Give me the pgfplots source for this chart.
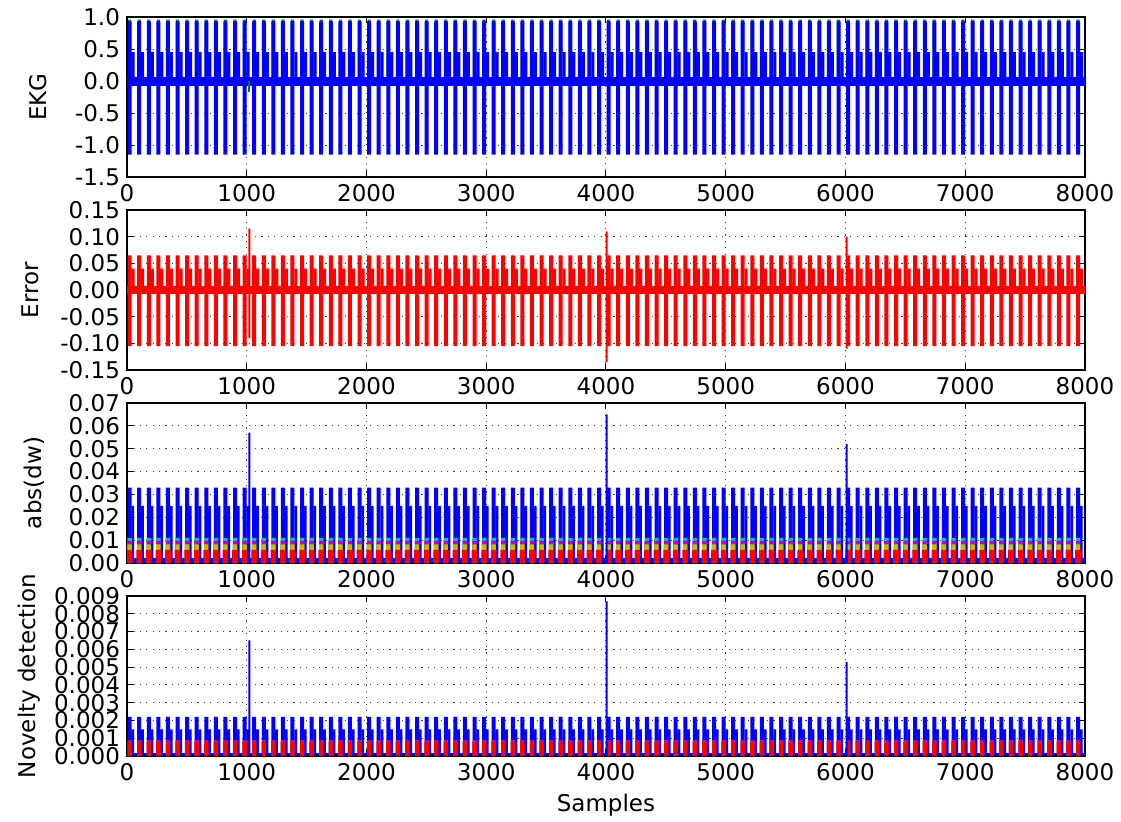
\documentclass[border=0pt]{standalone}
\usepackage{fontspec}
\setmainfont{DejaVu Sans}
\usepackage{pgfplots}
\pgfplotsset{compat=1.18}
\usepackage{pgfplotstable}

% matplotlib classic colours
\definecolor{mb}{rgb}{0,0,1}
\definecolor{mg}{rgb}{0,0.5,0}
\definecolor{mr}{rgb}{1,0,0}
\definecolor{mc}{rgb}{0,0.75,0.75}
\definecolor{mm}{rgb}{0.75,0,0.75}
\definecolor{my}{rgb}{0.75,0.75,0}

% one row per heart beat: peak heights in each panel
\pgfplotstableread{
x eg eh el es rh rl rs dh ds dc dm dy dr nh ns nm nr
22 0.96 0.93 -1.15 0.45 0.065 -0.105 0.04 0.033 0.025 0.011 0.0097 0.0082 0.0058 0.0022 0.0015 0.0009 0.0008
102 0.96 0.93 -1.15 0.45 0.065 -0.105 0.04 0.033 0.025 0.011 0.0097 0.0082 0.0058 0.0022 0.0015 0.0009 0.0008
182 0.96 0.93 -1.15 0.45 0.065 -0.105 0.04 0.033 0.025 0.011 0.0097 0.0082 0.0058 0.0022 0.0015 0.0009 0.0008
262 0.96 0.93 -1.15 0.45 0.065 -0.105 0.04 0.033 0.025 0.011 0.0097 0.0082 0.0058 0.0022 0.0015 0.0009 0.0008
342 0.96 0.93 -1.15 0.45 0.065 -0.105 0.04 0.033 0.025 0.011 0.0097 0.0082 0.0058 0.0022 0.0015 0.0009 0.0008
422 0.96 0.93 -1.15 0.45 0.065 -0.105 0.04 0.033 0.025 0.011 0.0097 0.0082 0.0058 0.0022 0.0015 0.0009 0.0008
502 0.96 0.93 -1.15 0.45 0.065 -0.105 0.04 0.033 0.025 0.011 0.0097 0.0082 0.0058 0.0022 0.0015 0.0009 0.0008
582 0.96 0.93 -1.15 0.45 0.065 -0.105 0.04 0.033 0.025 0.011 0.0097 0.0082 0.0058 0.0022 0.0015 0.0009 0.0008
662 0.96 0.93 -1.15 0.45 0.065 -0.105 0.04 0.033 0.025 0.011 0.0097 0.0082 0.0058 0.0022 0.0015 0.0009 0.0008
742 0.96 0.93 -1.15 0.45 0.065 -0.105 0.04 0.033 0.025 0.011 0.0097 0.0082 0.0058 0.0022 0.0015 0.0009 0.0008
822 0.96 0.93 -1.15 0.45 0.065 -0.105 0.04 0.033 0.025 0.011 0.0097 0.0082 0.0058 0.0022 0.0015 0.0009 0.0008
902 0.96 0.93 -1.15 0.45 0.065 -0.105 0.04 0.033 0.025 0.011 0.0097 0.0082 0.0058 0.0022 0.0015 0.0009 0.0008
982 0.96 0.93 -1.15 0.45 0.065 -0.105 0.04 0.033 0.025 0.011 0.0097 0.0082 0.0058 0.0022 0.0015 0.0009 0.0008
1062 0.96 0.93 -1.15 0.45 0.065 -0.105 0.04 0.033 0.025 0.011 0.0097 0.0082 0.0058 0.0022 0.0015 0.0009 0.0008
1142 0.96 0.93 -1.15 0.45 0.065 -0.105 0.04 0.033 0.025 0.011 0.0097 0.0082 0.0058 0.0022 0.0015 0.0009 0.0008
1222 0.96 0.93 -1.15 0.45 0.065 -0.105 0.04 0.033 0.025 0.011 0.0097 0.0082 0.0058 0.0022 0.0015 0.0009 0.0008
1302 0.96 0.93 -1.15 0.45 0.065 -0.105 0.04 0.033 0.025 0.011 0.0097 0.0082 0.0058 0.0022 0.0015 0.0009 0.0008
1382 0.96 0.93 -1.15 0.45 0.065 -0.105 0.04 0.033 0.025 0.011 0.0097 0.0082 0.0058 0.0022 0.0015 0.0009 0.0008
1462 0.96 0.93 -1.15 0.45 0.065 -0.105 0.04 0.033 0.025 0.011 0.0097 0.0082 0.0058 0.0022 0.0015 0.0009 0.0008
1542 0.96 0.93 -1.15 0.45 0.065 -0.105 0.04 0.033 0.025 0.011 0.0097 0.0082 0.0058 0.0022 0.0015 0.0009 0.0008
1622 0.96 0.93 -1.15 0.45 0.065 -0.105 0.04 0.033 0.025 0.011 0.0097 0.0082 0.0058 0.0022 0.0015 0.0009 0.0008
1702 0.96 0.93 -1.15 0.45 0.065 -0.105 0.04 0.033 0.025 0.011 0.0097 0.0082 0.0058 0.0022 0.0015 0.0009 0.0008
1782 0.96 0.93 -1.15 0.45 0.065 -0.105 0.04 0.033 0.025 0.011 0.0097 0.0082 0.0058 0.0022 0.0015 0.0009 0.0008
1862 0.96 0.93 -1.15 0.45 0.065 -0.105 0.04 0.033 0.025 0.011 0.0097 0.0082 0.0058 0.0022 0.0015 0.0009 0.0008
1942 0.96 0.93 -1.15 0.45 0.065 -0.105 0.04 0.033 0.025 0.011 0.0097 0.0082 0.0058 0.0022 0.0015 0.0009 0.0008
2022 0.96 0.93 -1.15 0.45 0.065 -0.105 0.04 0.033 0.025 0.011 0.0097 0.0082 0.0058 0.0022 0.0015 0.0009 0.0008
2102 0.96 0.93 -1.15 0.45 0.065 -0.105 0.04 0.033 0.025 0.011 0.0097 0.0082 0.0058 0.0022 0.0015 0.0009 0.0008
2182 0.96 0.93 -1.15 0.45 0.065 -0.105 0.04 0.033 0.025 0.011 0.0097 0.0082 0.0058 0.0022 0.0015 0.0009 0.0008
2262 0.96 0.93 -1.15 0.45 0.065 -0.105 0.04 0.033 0.025 0.011 0.0097 0.0082 0.0058 0.0022 0.0015 0.0009 0.0008
2342 0.96 0.93 -1.15 0.45 0.065 -0.105 0.04 0.033 0.025 0.011 0.0097 0.0082 0.0058 0.0022 0.0015 0.0009 0.0008
2422 0.96 0.93 -1.15 0.45 0.065 -0.105 0.04 0.033 0.025 0.011 0.0097 0.0082 0.0058 0.0022 0.0015 0.0009 0.0008
2502 0.96 0.93 -1.15 0.45 0.065 -0.105 0.04 0.033 0.025 0.011 0.0097 0.0082 0.0058 0.0022 0.0015 0.0009 0.0008
2582 0.96 0.93 -1.15 0.45 0.065 -0.105 0.04 0.033 0.025 0.011 0.0097 0.0082 0.0058 0.0022 0.0015 0.0009 0.0008
2662 0.96 0.93 -1.15 0.45 0.065 -0.105 0.04 0.033 0.025 0.011 0.0097 0.0082 0.0058 0.0022 0.0015 0.0009 0.0008
2742 0.96 0.93 -1.15 0.45 0.065 -0.105 0.04 0.033 0.025 0.011 0.0097 0.0082 0.0058 0.0022 0.0015 0.0009 0.0008
2822 0.96 0.93 -1.15 0.45 0.065 -0.105 0.04 0.033 0.025 0.011 0.0097 0.0082 0.0058 0.0022 0.0015 0.0009 0.0008
2902 0.96 0.93 -1.15 0.45 0.065 -0.105 0.04 0.033 0.025 0.011 0.0097 0.0082 0.0058 0.0022 0.0015 0.0009 0.0008
2982 0.96 0.93 -1.15 0.45 0.065 -0.105 0.04 0.033 0.025 0.011 0.0097 0.0082 0.0058 0.0022 0.0015 0.0009 0.0008
3062 0.96 0.93 -1.15 0.45 0.065 -0.105 0.04 0.033 0.025 0.011 0.0097 0.0082 0.0058 0.0022 0.0015 0.0009 0.0008
3142 0.96 0.93 -1.15 0.45 0.065 -0.105 0.04 0.033 0.025 0.011 0.0097 0.0082 0.0058 0.0022 0.0015 0.0009 0.0008
3222 0.96 0.93 -1.15 0.45 0.065 -0.105 0.04 0.033 0.025 0.011 0.0097 0.0082 0.0058 0.0022 0.0015 0.0009 0.0008
3302 0.96 0.93 -1.15 0.45 0.065 -0.105 0.04 0.033 0.025 0.011 0.0097 0.0082 0.0058 0.0022 0.0015 0.0009 0.0008
3382 0.96 0.93 -1.15 0.45 0.065 -0.105 0.04 0.033 0.025 0.011 0.0097 0.0082 0.0058 0.0022 0.0015 0.0009 0.0008
3462 0.96 0.93 -1.15 0.45 0.065 -0.105 0.04 0.033 0.025 0.011 0.0097 0.0082 0.0058 0.0022 0.0015 0.0009 0.0008
3542 0.96 0.93 -1.15 0.45 0.065 -0.105 0.04 0.033 0.025 0.011 0.0097 0.0082 0.0058 0.0022 0.0015 0.0009 0.0008
3622 0.96 0.93 -1.15 0.45 0.065 -0.105 0.04 0.033 0.025 0.011 0.0097 0.0082 0.0058 0.0022 0.0015 0.0009 0.0008
3702 0.96 0.93 -1.15 0.45 0.065 -0.105 0.04 0.033 0.025 0.011 0.0097 0.0082 0.0058 0.0022 0.0015 0.0009 0.0008
3782 0.96 0.93 -1.15 0.45 0.065 -0.105 0.04 0.033 0.025 0.011 0.0097 0.0082 0.0058 0.0022 0.0015 0.0009 0.0008
3862 0.96 0.93 -1.15 0.45 0.065 -0.105 0.04 0.033 0.025 0.011 0.0097 0.0082 0.0058 0.0022 0.0015 0.0009 0.0008
3942 0.96 0.93 -1.15 0.45 0.065 -0.105 0.04 0.033 0.025 0.011 0.0097 0.0082 0.0058 0.0022 0.0015 0.0009 0.0008
4022 0.96 0.93 -1.15 0.45 0.065 -0.105 0.04 0.033 0.025 0.011 0.0097 0.0082 0.0058 0.0022 0.0015 0.0009 0.0008
4102 0.96 0.93 -1.15 0.45 0.065 -0.105 0.04 0.033 0.025 0.011 0.0097 0.0082 0.0058 0.0022 0.0015 0.0009 0.0008
4182 0.96 0.93 -1.15 0.45 0.065 -0.105 0.04 0.033 0.025 0.011 0.0097 0.0082 0.0058 0.0022 0.0015 0.0009 0.0008
4262 0.96 0.93 -1.15 0.45 0.065 -0.105 0.04 0.033 0.025 0.011 0.0097 0.0082 0.0058 0.0022 0.0015 0.0009 0.0008
4342 0.96 0.93 -1.15 0.45 0.065 -0.105 0.04 0.033 0.025 0.011 0.0097 0.0082 0.0058 0.0022 0.0015 0.0009 0.0008
4422 0.96 0.93 -1.15 0.45 0.065 -0.105 0.04 0.033 0.025 0.011 0.0097 0.0082 0.0058 0.0022 0.0015 0.0009 0.0008
4502 0.96 0.93 -1.15 0.45 0.065 -0.105 0.04 0.033 0.025 0.011 0.0097 0.0082 0.0058 0.0022 0.0015 0.0009 0.0008
4582 0.96 0.93 -1.15 0.45 0.065 -0.105 0.04 0.033 0.025 0.011 0.0097 0.0082 0.0058 0.0022 0.0015 0.0009 0.0008
4662 0.96 0.93 -1.15 0.45 0.065 -0.105 0.04 0.033 0.025 0.011 0.0097 0.0082 0.0058 0.0022 0.0015 0.0009 0.0008
4742 0.96 0.93 -1.15 0.45 0.065 -0.105 0.04 0.033 0.025 0.011 0.0097 0.0082 0.0058 0.0022 0.0015 0.0009 0.0008
4822 0.96 0.93 -1.15 0.45 0.065 -0.105 0.04 0.033 0.025 0.011 0.0097 0.0082 0.0058 0.0022 0.0015 0.0009 0.0008
4902 0.96 0.93 -1.15 0.45 0.065 -0.105 0.04 0.033 0.025 0.011 0.0097 0.0082 0.0058 0.0022 0.0015 0.0009 0.0008
4982 0.96 0.93 -1.15 0.45 0.065 -0.105 0.04 0.033 0.025 0.011 0.0097 0.0082 0.0058 0.0022 0.0015 0.0009 0.0008
5062 0.96 0.93 -1.15 0.45 0.065 -0.105 0.04 0.033 0.025 0.011 0.0097 0.0082 0.0058 0.0022 0.0015 0.0009 0.0008
5142 0.96 0.93 -1.15 0.45 0.065 -0.105 0.04 0.033 0.025 0.011 0.0097 0.0082 0.0058 0.0022 0.0015 0.0009 0.0008
5222 0.96 0.93 -1.15 0.45 0.065 -0.105 0.04 0.033 0.025 0.011 0.0097 0.0082 0.0058 0.0022 0.0015 0.0009 0.0008
5302 0.96 0.93 -1.15 0.45 0.065 -0.105 0.04 0.033 0.025 0.011 0.0097 0.0082 0.0058 0.0022 0.0015 0.0009 0.0008
5382 0.96 0.93 -1.15 0.45 0.065 -0.105 0.04 0.033 0.025 0.011 0.0097 0.0082 0.0058 0.0022 0.0015 0.0009 0.0008
5462 0.96 0.93 -1.15 0.45 0.065 -0.105 0.04 0.033 0.025 0.011 0.0097 0.0082 0.0058 0.0022 0.0015 0.0009 0.0008
5542 0.96 0.93 -1.15 0.45 0.065 -0.105 0.04 0.033 0.025 0.011 0.0097 0.0082 0.0058 0.0022 0.0015 0.0009 0.0008
5622 0.96 0.93 -1.15 0.45 0.065 -0.105 0.04 0.033 0.025 0.011 0.0097 0.0082 0.0058 0.0022 0.0015 0.0009 0.0008
5702 0.96 0.93 -1.15 0.45 0.065 -0.105 0.04 0.033 0.025 0.011 0.0097 0.0082 0.0058 0.0022 0.0015 0.0009 0.0008
5782 0.96 0.93 -1.15 0.45 0.065 -0.105 0.04 0.033 0.025 0.011 0.0097 0.0082 0.0058 0.0022 0.0015 0.0009 0.0008
5862 0.96 0.93 -1.15 0.45 0.065 -0.105 0.04 0.033 0.025 0.011 0.0097 0.0082 0.0058 0.0022 0.0015 0.0009 0.0008
5942 0.96 0.93 -1.15 0.45 0.065 -0.105 0.04 0.033 0.025 0.011 0.0097 0.0082 0.0058 0.0022 0.0015 0.0009 0.0008
6022 0.96 0.93 -1.15 0.45 0.065 -0.105 0.04 0.033 0.025 0.011 0.0097 0.0082 0.0058 0.0022 0.0015 0.0009 0.0008
6102 0.96 0.93 -1.15 0.45 0.065 -0.105 0.04 0.033 0.025 0.011 0.0097 0.0082 0.0058 0.0022 0.0015 0.0009 0.0008
6182 0.96 0.93 -1.15 0.45 0.065 -0.105 0.04 0.033 0.025 0.011 0.0097 0.0082 0.0058 0.0022 0.0015 0.0009 0.0008
6262 0.96 0.93 -1.15 0.45 0.065 -0.105 0.04 0.033 0.025 0.011 0.0097 0.0082 0.0058 0.0022 0.0015 0.0009 0.0008
6342 0.96 0.93 -1.15 0.45 0.065 -0.105 0.04 0.033 0.025 0.011 0.0097 0.0082 0.0058 0.0022 0.0015 0.0009 0.0008
6422 0.96 0.93 -1.15 0.45 0.065 -0.105 0.04 0.033 0.025 0.011 0.0097 0.0082 0.0058 0.0022 0.0015 0.0009 0.0008
6502 0.96 0.93 -1.15 0.45 0.065 -0.105 0.04 0.033 0.025 0.011 0.0097 0.0082 0.0058 0.0022 0.0015 0.0009 0.0008
6582 0.96 0.93 -1.15 0.45 0.065 -0.105 0.04 0.033 0.025 0.011 0.0097 0.0082 0.0058 0.0022 0.0015 0.0009 0.0008
6662 0.96 0.93 -1.15 0.45 0.065 -0.105 0.04 0.033 0.025 0.011 0.0097 0.0082 0.0058 0.0022 0.0015 0.0009 0.0008
6742 0.96 0.93 -1.15 0.45 0.065 -0.105 0.04 0.033 0.025 0.011 0.0097 0.0082 0.0058 0.0022 0.0015 0.0009 0.0008
6822 0.96 0.93 -1.15 0.45 0.065 -0.105 0.04 0.033 0.025 0.011 0.0097 0.0082 0.0058 0.0022 0.0015 0.0009 0.0008
6902 0.96 0.93 -1.15 0.45 0.065 -0.105 0.04 0.033 0.025 0.011 0.0097 0.0082 0.0058 0.0022 0.0015 0.0009 0.0008
6982 0.96 0.93 -1.15 0.45 0.065 -0.105 0.04 0.033 0.025 0.011 0.0097 0.0082 0.0058 0.0022 0.0015 0.0009 0.0008
7062 0.96 0.93 -1.15 0.45 0.065 -0.105 0.04 0.033 0.025 0.011 0.0097 0.0082 0.0058 0.0022 0.0015 0.0009 0.0008
7142 0.96 0.93 -1.15 0.45 0.065 -0.105 0.04 0.033 0.025 0.011 0.0097 0.0082 0.0058 0.0022 0.0015 0.0009 0.0008
7222 0.96 0.93 -1.15 0.45 0.065 -0.105 0.04 0.033 0.025 0.011 0.0097 0.0082 0.0058 0.0022 0.0015 0.0009 0.0008
7302 0.96 0.93 -1.15 0.45 0.065 -0.105 0.04 0.033 0.025 0.011 0.0097 0.0082 0.0058 0.0022 0.0015 0.0009 0.0008
7382 0.96 0.93 -1.15 0.45 0.065 -0.105 0.04 0.033 0.025 0.011 0.0097 0.0082 0.0058 0.0022 0.0015 0.0009 0.0008
7462 0.96 0.93 -1.15 0.45 0.065 -0.105 0.04 0.033 0.025 0.011 0.0097 0.0082 0.0058 0.0022 0.0015 0.0009 0.0008
7542 0.96 0.93 -1.15 0.45 0.065 -0.105 0.04 0.033 0.025 0.011 0.0097 0.0082 0.0058 0.0022 0.0015 0.0009 0.0008
7622 0.96 0.93 -1.15 0.45 0.065 -0.105 0.04 0.033 0.025 0.011 0.0097 0.0082 0.0058 0.0022 0.0015 0.0009 0.0008
7702 0.96 0.93 -1.15 0.45 0.065 -0.105 0.04 0.033 0.025 0.011 0.0097 0.0082 0.0058 0.0022 0.0015 0.0009 0.0008
7782 0.96 0.93 -1.15 0.45 0.065 -0.105 0.04 0.033 0.025 0.011 0.0097 0.0082 0.0058 0.0022 0.0015 0.0009 0.0008
7862 0.96 0.93 -1.15 0.45 0.065 -0.105 0.04 0.033 0.025 0.011 0.0097 0.0082 0.0058 0.0022 0.0015 0.0009 0.0008
7942 0.96 0.93 -1.15 0.45 0.065 -0.105 0.04 0.033 0.025 0.011 0.0097 0.0082 0.0058 0.0022 0.0015 0.0009 0.0008
}\beats

% the three novelties
\pgfplotstableread{
x rh rl dh nh
1021 0.115 -0.09 0.057 0.0065
4006 0.11 -0.135 0.065 0.0087
6009 0.10 -0.11 0.052 0.0053
}\novel

\pgfplotsset{
  panel/.style={
    scale only axis, width=479pt, height=80pt,
    xmin=0, xmax=8000, xtick={0,1000,...,8000},
    grid=major, major grid style={dash pattern=on 0.6pt off 2.6pt, black!75, line width=0.5pt},
    tick align=inside, xtick pos=both, ytick pos=both,
    major tick length=3pt,
    axis line style={line width=0.6pt},
    every tick/.style={black, line width=0.5pt},
    /pgf/number format/assume math mode=true,
    /pgf/number format/1000 sep={},
    scaled y ticks=false, scaled x ticks=false,
    tick label style={font=\fontsize{11.5}{12}\selectfont},
    label style={font=\fontsize{11.5}{13}\selectfont},
    clip=true,
  },
  spike/.style={ybar, bar shift=0pt, bar width=#1, draw=none, forget plot},
}

\begin{document}
\begin{tikzpicture}
\path[use as bounding box] (-63.5pt,8.5pt) rectangle (497pt,-402pt);

% EKG
\begin{axis}[panel, at={(0pt,0pt)}, anchor=north west,
  ymin=-1.5, ymax=1.0, ytick={-1.5,-1,...,1},
  yticklabel style={/pgf/number format/.cd, fixed, fixed zerofill, precision=1},
  ylabel={EKG}, ylabel shift=7pt]
\addplot[mb, line width=4.4pt, forget plot] coordinates {(0,-0.005) (8000,-0.005)};
\addplot[spike=1.6pt, fill=mg] table[x=x, y=eg] {\beats};
\addplot[spike=2pt, fill=mb] table[x=x, y=eh] {\beats};
\addplot[spike=2pt, fill=mb] table[x=x, y=el] {\beats};
\addplot[spike=1.6pt, fill=mb, bar shift=1.7pt] table[x=x, y=es] {\beats};
\addplot[spike=0.9pt, fill=mg] coordinates {(1021,-0.17)};
\end{axis}

% Error
\begin{axis}[panel, at={(0pt,-96.5pt)}, anchor=north west,
  ymin=-0.15, ymax=0.15, ytick={-0.15,-0.1,...,0.16},
  yticklabel style={/pgf/number format/.cd, fixed, fixed zerofill, precision=2},
  ylabel={Error}, ylabel shift=4pt]
\addplot[mr, line width=3.6pt, forget plot] coordinates {(0,0) (8000,0)};
\addplot[spike=2pt, fill=mr] table[x=x, y=rh] {\beats};
\addplot[spike=2pt, fill=mr] table[x=x, y=rl] {\beats};
\addplot[spike=1.6pt, fill=mr, bar shift=1.7pt] table[x=x, y=rs] {\beats};
\addplot[spike=1pt, fill=mr] table[x=x, y=rh] {\novel};
\addplot[spike=1pt, fill=mr] table[x=x, y=rl] {\novel};
\end{axis}

% abs(dw)
\begin{axis}[panel, at={(0pt,-193pt)}, anchor=north west,
  ymin=0, ymax=0.07, ytick={0,0.01,...,0.071},
  yticklabel style={/pgf/number format/.cd, fixed, fixed zerofill, precision=2},
  ylabel={abs(dw)}, ylabel shift=5pt]
\addplot[mb, line width=2.6pt, forget plot] coordinates {(0,0.0011) (8000,0.0011)};
\addplot[spike=2pt, fill=mb] table[x=x, y=dh] {\beats};
\addplot[spike=1.4pt, fill=mb, bar shift=1.6pt] table[x=x, y=ds] {\beats};
\addplot[spike=2.2pt, fill=mc] table[x=x, y=dc] {\beats};
\addplot[spike=2.2pt, fill=mm] table[x=x, y=dm] {\beats};
\addplot[spike=2.2pt, fill=my] table[x=x, y=dy] {\beats};
\addplot[spike=2.8pt, fill=mr] table[x=x, y=dr] {\beats};
\addplot[spike=1pt, fill=mb] table[x=x, y=dh] {\novel};
\end{axis}

% Novelty detection
\begin{axis}[panel, at={(0pt,-289.5pt)}, anchor=north west,
  ymin=0, ymax=0.009, ytick={0,0.001,...,0.0091},
  yticklabel style={/pgf/number format/.cd, fixed, fixed zerofill, precision=3},
  ylabel={Novelty detection}, xlabel={Samples}]
\addplot[mb, line width=1.2pt, forget plot] coordinates {(0,0.0001) (8000,0.0001)};
\addplot[spike=2pt, fill=mb] table[x=x, y=nh] {\beats};
\addplot[spike=1.4pt, fill=mb, bar shift=1.6pt] table[x=x, y=ns] {\beats};
\addplot[spike=2pt, fill=mm] table[x=x, y=nm] {\beats};
\addplot[spike=2.2pt, fill=mr] table[x=x, y=nr] {\beats};
\addplot[spike=1pt, fill=mb] table[x=x, y=nh] {\novel};
\end{axis}
\end{tikzpicture}
\end{document}
